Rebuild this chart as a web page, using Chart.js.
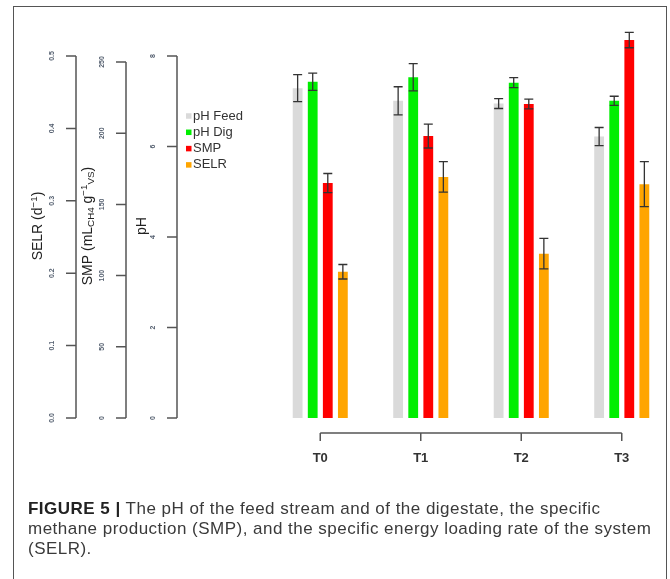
<!DOCTYPE html>
<html>
<head>
<meta charset="utf-8">
<script src="https://cdn.jsdelivr.net/npm/chart.js@4"></script>
<style>
  html, body { margin: 0; padding: 0; background: #fff; overflow: hidden; }
  body { width: 670px; height: 579px; position: relative; font-family: "Liberation Sans", Arial, sans-serif; }
  #chart { position: absolute; left: 0; top: 0; }
  #frame { position: absolute; left: 12.5px; top: 5.5px; width: 654.5px; height: 640px; box-sizing: border-box;
           border: 1.5px solid #555; border-bottom: none; }
  #caption { position: absolute; left: 28px; top: 499px; font-size: 17px; line-height: 20px; color: #3a3a3a;
             letter-spacing: 0.48px; white-space: nowrap; }
  #caption b { color: #222; }
</style>
</head>
<body>
<canvas id="chart" width="672" height="470"></canvas>
<div id="frame"></div>
<div id="caption"><b>FIGURE 5 |</b> The pH of the feed stream and of the digestate, the specific<br>methane production (SMP), and the specific energy loading rate of the system<br>(SELR).</div>

<script>
const categories = ['T0', 'T1', 'T2', 'T3'];
const phFeed = [7.29, 7.01, 6.95, 6.22];
const phFeedErr = [0.30, 0.31, 0.11, 0.20];
const phDig = [7.43, 7.53, 7.41, 7.01];
const phDigErr = [0.19, 0.30, 0.11, 0.10];
const smp = [165, 198, 220.5, 265.4];
const smpErr = [6.7, 8.4, 3.4, 5.4];
const selr = [0.202, 0.333, 0.227, 0.323];
const selrErr = [0.010, 0.021, 0.021, 0.031];

// Achsenbeschriftungen
const selrTicks = [0, 0.1, 0.2, 0.3, 0.4, 0.5];
const smpTicks = [0, 50, 100, 150, 200, 250];
const phTicks = [0, 2, 4, 6, 8];

const FONT = '"Liberation Sans", Arial, sans-serif';
const axisColor = '#555';

// Linke Achsen im R-Stil (Position der Achsenlinie, Titel mit Hoch-/Tiefstellung)
const sideAxes = [
    { id: 'ySelr', lineX: 76, ticks: selrTicks, digits: 1, titleX: 38,
      title: [['SELR (d', 0], ['\u22121', -1], [')', 0]] },
    { id: 'ySmp', lineX: 126, ticks: smpTicks, digits: 0, titleX: 88,
      title: [['SMP (mL', 0], ['CH4', 1], [' g', 0], ['\u22121', -1], ['VS', 1], [')', 0]] },
    { id: 'yPh', lineX: 177, ticks: phTicks, digits: 0, titleX: 142,
      title: [['pH', 0]] }
];

function drawRichTitle(ctx, parts, x, y) {
    const size = 14;
    const fontFor = p => (p[1] === 0 ? size : size * 0.7) + 'px ' + FONT;
    let total = 0;
    parts.forEach(p => { ctx.font = fontFor(p); total += ctx.measureText(p[0]).width; });
    ctx.save();
    ctx.translate(x, y);
    ctx.rotate(-Math.PI / 2);
    ctx.fillStyle = '#222';
    ctx.textAlign = 'left';
    ctx.textBaseline = 'middle';
    let pos = -total / 2;
    parts.forEach(p => {
        ctx.font = fontFor(p);
        const shift = p[1] === -1 ? -4 : (p[1] === 1 ? 3 : 0);
        ctx.fillText(p[0], pos, shift);
        pos += ctx.measureText(p[0]).width;
    });
    ctx.restore();
}

// Achsen, Fehlerbalken und Legende zeichnen
const rStylePlugin = {
    id: 'rStyle',
    afterDatasetsDraw(chart) {
        const ctx = chart.ctx;
        ctx.save();
        ctx.strokeStyle = '#333';
        ctx.lineWidth = 1.3;
        chart.data.datasets.forEach((ds, i) => {
            const meta = chart.getDatasetMeta(i);
            const scale = chart.scales[ds.yAxisID];
            meta.data.forEach((bar, j) => {
                const hi = scale.getPixelForValue(ds.data[j] + ds.errors[j]);
                const lo = scale.getPixelForValue(ds.data[j] - ds.errors[j]);
                ctx.beginPath();
                ctx.moveTo(bar.x, hi); ctx.lineTo(bar.x, lo);
                ctx.moveTo(bar.x - 4.5, hi); ctx.lineTo(bar.x + 4.5, hi);
                ctx.moveTo(bar.x - 4.5, lo); ctx.lineTo(bar.x + 4.5, lo);
                ctx.stroke();
            });
        });
        ctx.restore();
    },
    afterDraw(chart) {
        const ctx = chart.ctx;
        const area = chart.chartArea;
        ctx.save();
        ctx.strokeStyle = axisColor;
        ctx.lineWidth = 1.5;

        sideAxes.forEach(ax => {
            const scale = chart.scales[ax.id];
            const y0 = scale.getPixelForValue(ax.ticks[0]);
            const y1 = scale.getPixelForValue(ax.ticks[ax.ticks.length - 1]);
            ctx.beginPath();
            ctx.moveTo(ax.lineX, y0);
            ctx.lineTo(ax.lineX, y1);
            ax.ticks.forEach(t => {
                const y = scale.getPixelForValue(t);
                ctx.moveTo(ax.lineX, y);
                ctx.lineTo(ax.lineX - 10, y);
            });
            ctx.stroke();

            ax.ticks.forEach(t => {
                const y = scale.getPixelForValue(t);
                ctx.save();
                ctx.translate(ax.lineX - 24, y);
                ctx.rotate(-Math.PI / 2);
                ctx.font = 'bold 7px ' + FONT;
                ctx.fillStyle = '#556070';
                ctx.textAlign = 'center';
                ctx.textBaseline = 'middle';
                ctx.fillText(t.toFixed(ax.digits), 0, 0);
                ctx.restore();
            });

            drawRichTitle(ctx, ax.title, ax.titleX, (area.top + area.bottom) / 2 - 11);
        });

        // x-Achse: Linie nur vom ersten bis zum letzten Tick
        const xs = chart.scales.x;
        const ly = area.bottom + 15;
        const xFirst = xs.getPixelForValue(0);
        const xLast = xs.getPixelForValue(categories.length - 1);
        ctx.beginPath();
        ctx.moveTo(xFirst, ly);
        ctx.lineTo(xLast, ly);
        categories.forEach((c, i) => {
            const x = xs.getPixelForValue(i);
            ctx.moveTo(x, ly);
            ctx.lineTo(x, ly + 8);
        });
        ctx.stroke();

        // Legende
        ctx.font = '13px ' + FONT;
        ctx.textAlign = 'left';
        ctx.textBaseline = 'middle';
        chart.data.datasets.forEach((ds, i) => {
            const y = 116 + i * 16.3;
            ctx.fillStyle = ds.backgroundColor;
            ctx.fillRect(186, y - 2.75, 5.5, 5.5);
            ctx.fillStyle = '#333';
            ctx.fillText(ds.label, 193, y);
        });
        ctx.restore();
    }
};

function barSet(label, data, errors, axis, color) {
    return {
        label: label,
        data: data,
        errors: errors,
        yAxisID: axis,
        backgroundColor: color,
        borderWidth: 0,
        categoryPercentage: 0.6,
        barPercentage: 0.65,
        clip: false
    };
}

new Chart(document.getElementById('chart'), {
    type: 'bar',
    data: {
        labels: categories,
        datasets: [
            barSet('pH Feed', phFeed, phFeedErr, 'yPh', '#dadada'),
            barSet('pH Dig', phDig, phDigErr, 'yPh', '#00ee00'),
            barSet('SMP', smp, smpErr, 'ySmp', '#ff0000'),
            barSet('SELR', selr, selrErr, 'ySelr', '#ffa500')
        ]
    },
    options: {
        responsive: false,
        animation: false,
        devicePixelRatio: 1,
        layout: { padding: { left: 270, right: 0, top: 56, bottom: 0 } },
        plugins: {
            legend: { display: false },
            tooltip: { enabled: false }
        },
        scales: {
            x: {
                grid: { display: false, drawTicks: false },
                border: { display: false },
                ticks: {
                    padding: 33,
                    color: '#333',
                    font: { family: FONT, size: 13, weight: 'bold' }
                },
                afterFit: s => { s.height = 52; }
            },
            yPh: { axis: 'y', position: 'left', display: false, min: 0, max: 8 },
            ySmp: { axis: 'y', position: 'left', display: false, min: 0, max: 254.2 },
            ySelr: { axis: 'y', position: 'left', display: false, min: 0, max: 0.5 }
        }
    },
    plugins: [rStylePlugin]
});
</script>
</body>
</html>
